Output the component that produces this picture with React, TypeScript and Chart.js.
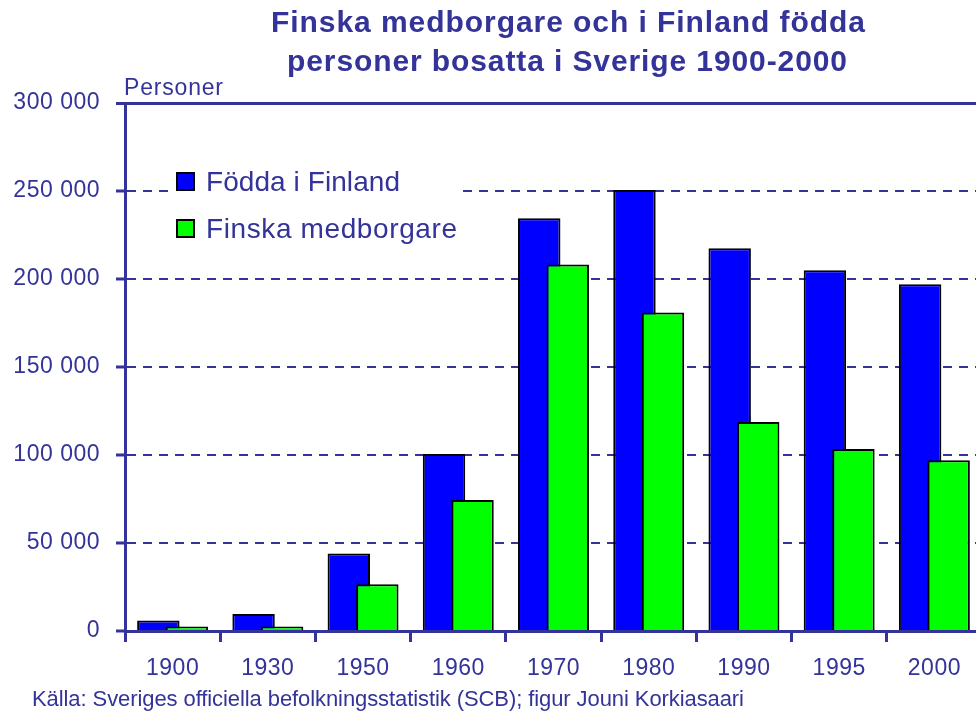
import { useEffect, useRef } from 'react';
import { Chart, registerables } from 'chart.js';

Chart.register(...registerables);

const categories = ['1900', '1930', '1950', '1960', '1970', '1980', '1990', '1995', '2000'];
const bornInFinland = [6000, 9700, 44000, 100500, 234500, 250600, 217500, 205000, 197000];
const finnishCitizens = [2500, 2500, 26500, 74500, 208300, 181000, 118800, 103400, 97000];
const yTickValues = [0, 50000, 100000, 150000, 200000, 250000, 300000];
const yTickLabels = ['0', '50 000', '100 000', '150 000', '200 000', '250 000', '300 000'];
const seriesLabels = ['Födda i Finland', 'Finska medborgare'];
const seriesColors = ['#0000ff', '#00ff00'];
const titleLines = ['Finska medborgare och i Finland födda', 'personer bosatta i Sverige 1900-2000'];
const yAxisTitle = 'Personer';
const sourceText = 'Källa: Sveriges officiella befolkningsstatistik (SCB); figur Jouni Korkiasaari';

const NAVY = '#333399';
const FAMILY = '"Liberation Sans", Arial, sans-serif';

function fitText(ctx: CanvasRenderingContext2D, text: string, font: string, x: number, y: number, width: number) {
  ctx.save();
  ctx.font = font;
  (ctx as any).letterSpacing = '0px';
  const w = ctx.measureText(text).width;
  const ls = (width - w) / Math.max(1, text.length - 1);
  (ctx as any).letterSpacing = ls + 'px';
  ctx.textAlign = 'left';
  ctx.textBaseline = 'alphabetic';
  ctx.fillStyle = NAVY;
  ctx.fillText(text, x, y);
  ctx.restore();
}

const spacingPlugin = {
  id: 'spacing',
  beforeDraw(chart: any) {
    chart.ctx.letterSpacing = '0.5px';
  },
};

const layerPlugin = {
  id: 'layerOrder',
  beforeDatasetsDraw(chart: any) {
    const meta = chart.getDatasetMeta(0);
    if (meta.visible) meta.controller.draw();
  },
  beforeDatasetDraw(_chart: any, args: any) {
    if (args.index === 0) return false;
  },
};

const textPlugin = {
  id: 'texts',
  afterDraw(chart: any) {
    const ctx: CanvasRenderingContext2D = chart.ctx;
    // title
    fitText(ctx, titleLines[0], `bold 30px ${FAMILY}`, 271, 32, 594);
    fitText(ctx, titleLines[1], `bold 30px ${FAMILY}`, 287, 71, 560);
    // axis title
    fitText(ctx, yAxisTitle, `23px ${FAMILY}`, 124, 95, 99);
    // source
    fitText(ctx, sourceText, `22px ${FAMILY}`, 32, 706, 712);
    // legend background
    ctx.save();
    ctx.fillStyle = '#ffffff';
    ctx.fillRect(168, 158, 295, 92);
    ctx.restore();
    // legend
    const ds = chart.data.datasets;
    const legendWidths = [194, 251];
    ds.forEach((d: any, i: number) => {
      const y = 173 + i * 47;
      ctx.save();
      ctx.fillStyle = d.backgroundColor;
      ctx.fillRect(177, y, 17, 17);
      ctx.strokeStyle = '#000';
      ctx.lineWidth = 2;
      ctx.strokeRect(177, y, 17, 17);
      ctx.restore();
      fitText(ctx, d.label, `28px ${FAMILY}`, 206, 191 + i * 47, legendWidths[i]);
    });
  },
};

export default function App() {
  const canvasRef = useRef<HTMLCanvasElement | null>(null);

  useEffect(() => {
    if (!canvasRef.current) return;
    Chart.defaults.font.family = FAMILY;
    const chart = new Chart(canvasRef.current, {
      type: 'bar',
      data: {
        labels: categories,
        datasets: [
          {
            label: seriesLabels[0],
            data: bornInFinland,
            backgroundColor: seriesColors[0],
            borderColor: '#000000',
            borderWidth: 2,
            categoryPercentage: 0.599,
            barPercentage: 1.488,
          },
          {
            label: seriesLabels[1],
            data: finnishCitizens,
            backgroundColor: seriesColors[1],
            borderColor: '#000000',
            borderWidth: 2,
            categoryPercentage: 0.599,
            barPercentage: 1.488,
          },
        ],
      },
      options: {
        responsive: false,
        animation: false,
        devicePixelRatio: 1,
        layout: { padding: { left: 0, right: 18, top: 103, bottom: 0 } },
        plugins: {
          legend: { display: false },
          title: { display: false },
          tooltip: { enabled: false },
        },
        scales: {
          x: {
            offset: true,
            grid: {
              display: true,
              offset: true,
              drawOnChartArea: false,
              drawTicks: true,
              tickLength: 11,
              tickWidth: 3,
              tickColor: NAVY,
              color: NAVY,
              lineWidth: 3,
            },
            border: { display: true, color: NAVY, width: 3 },
            ticks: {
              color: NAVY,
              font: { size: 23, family: FAMILY },
              padding: 13,
              maxRotation: 0,
              autoSkip: false,
            },
            afterFit(scale: any) {
              scale.height = 91;
            },
          },
          y: {
            min: 0,
            max: 300000,
            ticks: {
              stepSize: 50000,
              color: NAVY,
              font: { size: 23, family: FAMILY },
              padding: 16,
              callback: (v: any) => {
                const idx = yTickValues.indexOf(Number(v));
                return idx >= 0 ? yTickLabels[idx] : '';
              },
            },
            grid: {
              color: NAVY,
              lineWidth: (c: any) => (c.tick && c.tick.value === 300000 ? 3 : 2),
              tickLength: 9,
              tickWidth: 3,
              tickColor: NAVY,
            },
            border: {
              display: true,
              color: NAVY,
              width: 3,
              dash: (c: any) => (c.tick && c.tick.value !== 300000 ? [9, 7] : []),
            },
            afterFit(scale: any) {
              scale.width = 125;
            },
          },
        },
      } as any,
      plugins: [spacingPlugin, layerPlugin, textPlugin],
    });
    return () => chart.destroy();
  }, []);

  return (
    <div
      style={{
        position: 'fixed',
        left: 0,
        top: 0,
        width: 976,
        height: 722,
        overflow: 'hidden',
        background: '#ffffff',
      }}
    >
      <canvas ref={canvasRef} width={1000} height={722} style={{ display: 'block' }} />
    </div>
  );
}
